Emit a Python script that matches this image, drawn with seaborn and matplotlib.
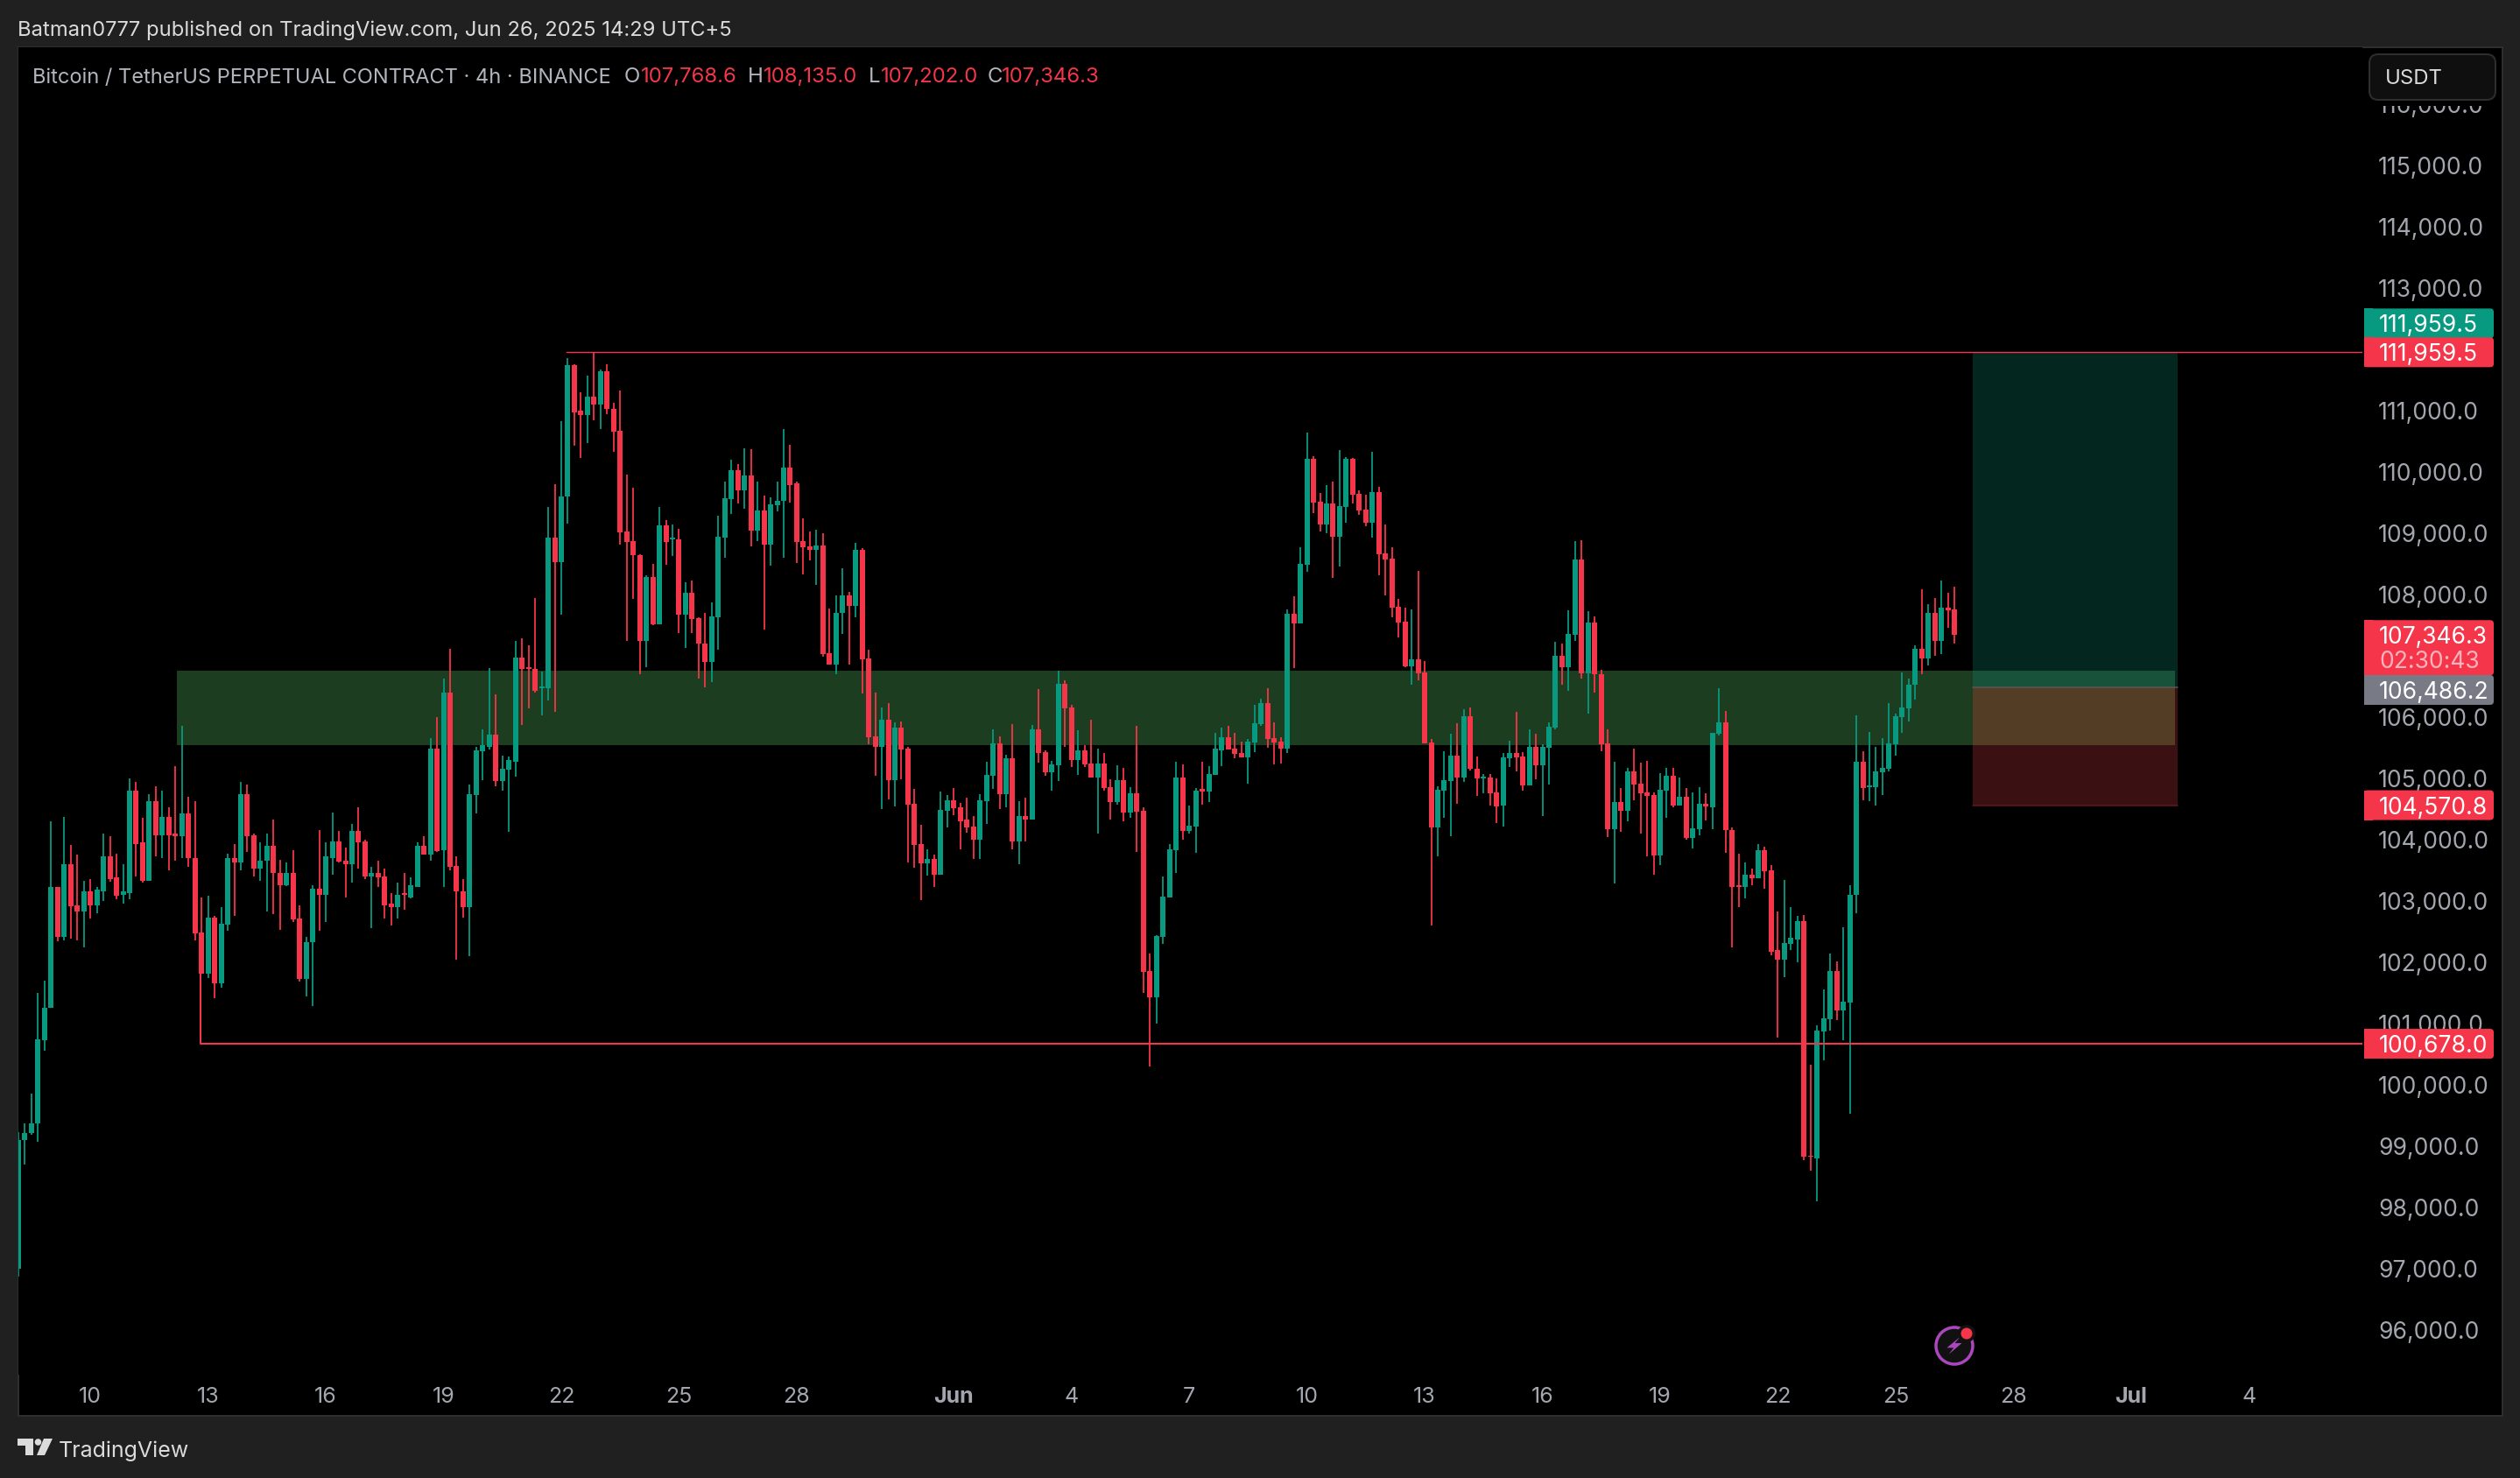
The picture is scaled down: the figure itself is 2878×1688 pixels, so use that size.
"""BTCUSDT 4h perpetual chart with a long position box, TradingView dark look."""

import matplotlib
matplotlib.use("Agg")
import matplotlib.pyplot as plt
from matplotlib.patches import Circle, FancyBboxPatch, Polygon, Rectangle
import numpy as np
import pandas as pd
import seaborn as sns

opens = [
    97010, 99100, 99220, 99380, 100730, 101260, 103240, 102420, 103610, 102930,
    102840, 103160, 102940, 103170, 103730, 103390, 103100, 103140, 104800, 103960,
    103330, 104630, 104080, 104380, 104100, 104060, 104440, 103710, 102490, 101820,
    102740, 101670, 102620, 103700, 103630, 104750, 104080, 103540, 103660, 103910,
    103470, 103270, 103470, 102720, 101730, 102340, 103210, 103110, 103710, 103980,
    103660, 103610, 104150, 103980, 103410, 103470, 103410, 102960, 102900, 103140,
    103070, 103240, 103900, 103770, 105490, 103830, 106410, 103580, 103170, 102910,
    104740, 105450, 105520, 105720, 104970, 105150, 105280, 106980, 106820, 106790,
    106480, 106480, 108930, 108530, 109610, 111750, 111000, 110930, 111240, 111110,
    111650, 111040, 110680, 109030, 108880, 108650, 107250, 108290, 107520, 109140,
    108900, 108910, 107680, 108040, 107620, 107210, 106910, 107640, 108930, 109570,
    110030, 109700, 109950, 109050, 109380, 108820, 109470, 109530, 110080, 109820,
    108880, 108790, 108740, 108810, 107050, 106870, 107700, 107990, 107820, 108740,
    106960, 105690, 105520, 105970, 104980, 105830, 105490, 104590, 103940, 103620,
    103690, 103440, 104480, 104650, 104540, 104330, 104220, 104010, 104640, 105050,
    105580, 104750, 105330, 103980, 104390, 104330, 105810, 105430, 105100, 105220,
    106550, 106160, 105300, 105470, 105250, 105020, 105250, 104870, 104620, 104980,
    104450, 104770, 104480, 101870, 101440, 102420, 103060, 103830, 105020, 104150,
    104220, 104830, 104790, 105060, 105470, 105680, 105490, 105420, 105350, 105590,
    105890, 106230, 105670, 105610, 105490, 107690, 107540, 108490, 110220, 109520,
    109150, 109490, 108950, 109440, 110220, 109650, 109390, 109180, 109680, 108680,
    108590, 107810, 107560, 106830, 106950, 106730, 105590, 104210, 104810, 104970,
    105380, 105020, 106020, 105170, 105010, 105020, 104780, 104570, 105340, 105420,
    105370, 104890, 105520, 105220, 105510, 105830, 107010, 106820, 107350, 108580,
    106720, 107550, 106710, 105580, 104180, 104620, 104480, 105120, 104920, 104780,
    104740, 103750, 104800, 105050, 104570, 104710, 104040, 104180, 104590, 104540,
    105740, 105920, 104160, 103260, 103230, 103430, 103380, 103830, 103510, 102200,
    102050, 102310, 102380, 102680, 98850, 98810, 100880, 101080, 101870, 101220,
    101350, 103100, 105280, 104870, 104870, 105110, 105170, 105570, 106010, 106150,
    106530, 107120, 106970, 107700, 107250, 107790, 107768.6,
]
highs = [
    99230, 99380, 99870, 101500, 101700, 104310, 103240, 104380, 103920, 103760,
    103340, 103360, 103240, 104100, 104070, 103780, 103600, 105010, 104950, 104370,
    104750, 104880, 104810, 104540, 105200, 105870, 104700, 104630, 103060, 103090,
    102760, 102910, 103780, 103940, 104950, 104900, 104100, 103960, 104110, 104330,
    103680, 103640, 103830, 102940, 102420, 103260, 104170, 103960, 104450, 104150,
    103880, 104270, 104530, 104000, 103570, 103670, 103530, 103140, 103310, 103470,
    103390, 103960, 104070, 105670, 106010, 106640, 107120, 103740, 103370, 104910,
    105520, 105810, 106810, 106380, 105380, 105370, 107250, 107290, 107180, 107950,
    106750, 109430, 109800, 110830, 111870, 111770, 111300, 111580, 111960, 111680,
    111770, 111140, 111340, 109970, 109750, 108660, 108320, 108510, 109430, 109220,
    109150, 109080, 108200, 108240, 107640, 107700, 107880, 109290, 109850, 110200,
    110130, 110390, 110380, 109850, 109620, 109590, 109850, 110700, 110450, 109850,
    109250, 109040, 109070, 109010, 107780, 107990, 108430, 108050, 108850, 108760,
    107110, 106410, 106160, 106240, 105920, 105930, 105520, 104830, 104250, 103850,
    103770, 104790, 104740, 104850, 104600, 104690, 104390, 104750, 105280, 105810,
    105690, 105390, 105890, 104640, 104690, 105880, 106470, 105470, 105290, 106770,
    106610, 106200, 105790, 105550, 105960, 105490, 105420, 104990, 105220, 105180,
    104870, 105870, 104540, 102150, 102450, 103410, 103930, 105280, 105240, 104560,
    104850, 105280, 105200, 105750, 105830, 105870, 105750, 105600, 105650, 106200,
    106300, 106480, 105920, 105680, 107760, 107980, 108780, 110650, 110270, 109670,
    109790, 109850, 110370, 110250, 110240, 109710, 109630, 110340, 109770, 109150,
    108780, 107940, 107790, 107760, 108390, 106920, 105650, 104880, 105450, 105740,
    105900, 106140, 106170, 105370, 105080, 105080, 105010, 105420, 105620, 106090,
    105430, 105800, 105740, 105570, 105920, 107230, 107200, 107750, 108880, 108890,
    107730, 107650, 106780, 105800, 105280, 104850, 105180, 105490, 105270, 105290,
    104780, 105090, 105180, 105180, 105020, 104850, 104780, 104870, 104770, 105750,
    106480, 106110, 104210, 103780, 103640, 103540, 103940, 103890, 103590, 102830,
    103350, 102900, 102760, 102780, 100340, 100980, 101570, 102150, 102020, 102580,
    103260, 106040, 105450, 105770, 105520, 105670, 106240, 106060, 106730, 106640,
    107180, 108090, 107850, 107950, 108240, 108030, 108135,
]
lows = [
    96880, 98710, 99190, 99080, 100570, 101260, 102350, 102370, 102390, 102370,
    102250, 102720, 102800, 103010, 103320, 103040, 102960, 103030, 103410, 103300,
    103330, 103740, 103700, 103510, 103670, 103700, 103560, 102360, 101820, 101750,
    101420, 101590, 102520, 102770, 103500, 103800, 103410, 103330, 102830, 102790,
    102540, 103250, 102670, 101690, 101450, 101290, 102520, 102670, 103430, 103630,
    103070, 103310, 103530, 103370, 102560, 103240, 102720, 102600, 102720, 102860,
    103050, 103240, 103770, 103670, 103800, 103230, 103510, 102050, 102740, 102100,
    104440, 104980, 105480, 104880, 104810, 104130, 105040, 105880, 106150, 106410,
    106040, 106280, 106090, 107680, 109160, 110430, 110240, 110480, 110850, 110700,
    110950, 110340, 108820, 107250, 107930, 106710, 106820, 107510, 107520, 108490,
    108640, 107380, 107140, 107380, 106640, 106490, 106580, 107110, 108610, 109320,
    109490, 109410, 108790, 108880, 107430, 108480, 109370, 108600, 109510, 108520,
    108340, 108570, 108160, 106990, 106870, 106710, 107370, 106870, 107640, 106390,
    105560, 105050, 104510, 104660, 104550, 104990, 103640, 103550, 103020, 103420,
    103230, 103440, 104210, 104410, 103850, 104120, 103690, 103690, 104270, 104830,
    104510, 104540, 103850, 103600, 103980, 104330, 105270, 105050, 104810, 104960,
    105520, 105190, 105060, 105190, 105020, 104100, 104810, 104330, 104580, 104310,
    104370, 103810, 101500, 100300, 101000, 102310, 103060, 103460, 104000, 104100,
    103790, 104580, 104620, 105060, 105210, 105480, 105330, 105350, 104920, 105440,
    105870, 105510, 105240, 105250, 105420, 106800, 107540, 108380, 109340, 109040,
    109010, 108280, 108460, 109180, 109490, 109310, 109120, 108940, 108320, 107990,
    107640, 107300, 106820, 106530, 106610, 105580, 102610, 103730, 104360, 104060,
    104590, 104950, 105140, 104720, 104770, 104570, 104280, 104220, 105190, 105120,
    104810, 104890, 104990, 104390, 104910, 105800, 106530, 106430, 107250, 106630,
    106070, 106400, 105450, 104050, 103290, 104140, 104310, 104650, 104110, 103740,
    103430, 103590, 104360, 104540, 104570, 104010, 103860, 104080, 104320, 104180,
    105700, 103790, 102250, 102900, 103050, 103260, 103380, 103210, 102120, 100780,
    101770, 102200, 102000, 98780, 98600, 98110, 100410, 100890, 101070, 100740,
    99540, 102810, 104650, 104640, 104570, 104740, 105120, 105380, 105750, 105940,
    106290, 106700, 106850, 107010, 107040, 107470, 107202,
]
closes = [
    99110, 99220, 99380, 100750, 101260, 103240, 102420, 103610, 102920, 102840,
    103160, 102940, 103190, 103730, 103370, 103090, 103160, 104800, 103940, 103340,
    104630, 104080, 104380, 104080, 104070, 104440, 103700, 102480, 101820, 102740,
    101670, 102630, 103700, 103630, 104750, 104070, 103540, 103670, 103910, 103470,
    103270, 103470, 102700, 101730, 102340, 103210, 103110, 103730, 103980, 103650,
    103610, 104150, 103970, 103400, 103470, 103390, 102940, 102900, 103110, 103100,
    103260, 103900, 103770, 105490, 103820, 106410, 103570, 103170, 102910, 104750,
    105470, 105550, 105720, 104970, 105170, 105300, 106980, 106790, 106790, 106440,
    106510, 108930, 108530, 109610, 111750, 110980, 110930, 111240, 111110, 111650,
    111040, 110670, 109020, 108870, 108650, 107250, 108290, 107520, 109140, 108870,
    108930, 107680, 108040, 107610, 107200, 106910, 107650, 108950, 109580, 110030,
    109700, 109950, 109050, 109380, 108820, 109480, 109530, 110080, 109790, 108870,
    108780, 108740, 108810, 107040, 106870, 107700, 107990, 107820, 108740, 106950,
    105680, 105520, 105970, 104980, 105830, 105480, 104580, 103920, 103620, 103690,
    103440, 104490, 104650, 104520, 104310, 104210, 104010, 104650, 105060, 105580,
    104750, 105330, 103980, 104390, 104330, 105810, 105420, 105100, 105240, 106550,
    106150, 105300, 105470, 105230, 105020, 105250, 104850, 104620, 104980, 104450,
    104770, 104460, 101850, 101440, 102440, 103080, 103850, 105020, 104150, 104240,
    104810, 104790, 105080, 105490, 105680, 105480, 105410, 105350, 105610, 105900,
    106230, 105650, 105590, 105490, 107690, 107540, 108510, 110220, 109510, 109150,
    109490, 108950, 109450, 110220, 109640, 109380, 109180, 109680, 108660, 108580,
    107790, 107550, 106830, 106950, 106720, 105580, 104210, 104820, 104980, 105380,
    105020, 106020, 105170, 105010, 105040, 104770, 104550, 105350, 105420, 105350,
    104890, 105520, 105220, 105520, 105850, 107010, 106820, 107360, 108580, 106720,
    107550, 106700, 105570, 104180, 104620, 104480, 105120, 104910, 104770, 104720,
    103750, 104820, 105050, 104560, 104710, 104030, 104190, 104590, 104550, 105750,
    105920, 104160, 103240, 103240, 103430, 103380, 103830, 103490, 102180, 102050,
    102320, 102400, 102680, 98830, 98830, 100890, 101090, 101870, 101220, 101370,
    103110, 105280, 104850, 104890, 105120, 105180, 105580, 106020, 106160, 106540,
    107120, 106970, 107700, 107250, 107790, 107750, 107346.3,
]

price_ticks = [96000, 97000, 98000, 99000, 100000, 101000, 102000, 103000, 104000, 105000,
               106000, 108000, 109000, 110000, 111000, 113000, 114000, 115000, 116000]
time_positions = [11, 29, 47, 65, 83, 101, 119, 143, 161, 179, 197, 215, 233, 251, 269, 287, 305, 323, 341]
time_labels = ["10", "13", "16", "19", "22", "25", "28", "Jun", "4", "7", "10", "13", "16", "19", "22", "25", "28", "Jul", "4"]

resistance = 111959.5
support = 100678.0
entry = 106486.2
stop = 104570.8
last_close = 107346.3
zone_top = 106770
zone_bottom = 105550
support_start = 27.8
resistance_start = 83.8
zone_start = 24.2
box_start = 298.8
zone_end = 329.7
box_end = 330.1

W, H = 2878, 1688
GREEN = "#089981"
RED = "#F5364A"
FRAME = "#202020"
EDGE = "#2E2E2E"
GREY = "#A3A6AF"
LEGEND = "#B2B5BE"
PX = 0.72  # points per pixel at dpi 100
SCALE_FONT = 26.5 * PX

sns.set_theme(style="dark")
plt.rcParams["font.family"] = ["Inter", "DejaVu Sans"]

fig = plt.figure(figsize=(W / 100, H / 100), dpi=100, facecolor=FRAME)


def overlay(zorder):
    axis = fig.add_axes([0, 0, 1, 1], zorder=zorder)
    axis.set_xlim(0, W)
    axis.set_ylim(H, 0)
    axis.axis("off")
    return axis


back = overlay(0)
back.add_patch(Rectangle((20.5, 53.5), 2837, 1563, facecolor="black", edgecolor=EDGE, linewidth=2 * PX))

ax = fig.add_axes([21 / W, 1 - 1570 / H, (2698 - 21) / W, (1570 - 54) / H], zorder=1, facecolor="black")
ax.set_xlim(0, (2698 - 21) / 7.47)
ax.set_ylim(100000 + (1239.5 - 1570) / 0.07, 100000 + (1239.5 - 54) / 0.07)
ax.grid(False)
for spine in ax.spines.values():
    spine.set_visible(False)

# position box and the green zone, opaque pieces so the overlaps keep their tint
ax.add_patch(Rectangle((zone_start, zone_bottom), box_start - zone_start, zone_top - zone_bottom, color="#1C3D1F", lw=0, zorder=1))
ax.add_patch(Rectangle((box_start, entry), box_end - box_start, resistance - entry, color="#03261F", lw=0, zorder=1))
ax.add_patch(Rectangle((box_start, stop), box_end - box_start, entry - stop, color="#3A1013", lw=0, zorder=1))
ax.add_patch(Rectangle((box_start, entry), zone_end - box_start, zone_top - entry, color="#18523A", lw=0, zorder=1.5))
ax.add_patch(Rectangle((box_start, zone_bottom), zone_end - box_start, entry - zone_bottom, color="#533D25", lw=0, zorder=1.5))

direction = np.where(np.array(closes) >= np.array(opens), "up", "down")
index = np.arange(len(opens))
palette = {"up": GREEN, "down": RED}

wicks = pd.DataFrame({
    "i": np.repeat(index, 2),
    "price": np.column_stack([lows, highs]).ravel(),
    "dir": np.repeat(direction, 2),
})
bodies = pd.DataFrame({
    "i": np.repeat(index, 2),
    "price": np.column_stack([opens, closes]).ravel(),
    "dir": np.repeat(direction, 2),
})
for frame, width in ((wicks, 1.8), (bodies, 6)):
    sns.lineplot(data=frame, x="i", y="price", hue="dir", units="i", estimator=None, sort=False,
                 palette=palette, legend=False, linewidth=width * PX, solid_capstyle="butt", ax=ax, zorder=3)

xmax = ax.get_xlim()[1]
sns.lineplot(x=[resistance_start, xmax], y=[resistance, resistance], sort=False, estimator=None, color=RED, linewidth=1.4 * PX, ax=ax, zorder=4)
sns.lineplot(x=[support_start, support_start, xmax], y=[lows[28], support, support], sort=False, estimator=None, color=RED, linewidth=2 * PX, ax=ax, zorder=4)
sns.lineplot(x=[box_start, box_end], y=[entry, entry], sort=False, estimator=None, color="#5A5A55", linewidth=1.5 * PX, ax=ax, zorder=2)
sns.lineplot(x=[box_start, box_end], y=[stop, stop], sort=False, estimator=None, color="#641820", linewidth=1.5 * PX, ax=ax, zorder=2)

ax.set(xlabel="", ylabel="")
ax.set_yticks(price_ticks, [f"{p:,.1f}" for p in price_ticks])
ax.set_xticks(time_positions, time_labels)
ax.tick_params(axis="y", length=0, labelright=True, labelleft=False, pad=18 * PX, labelsize=SCALE_FONT, labelcolor=GREY)
ax.tick_params(axis="x", length=0, pad=14 * PX, labelsize=25 * PX, labelcolor=GREY)
for label in ax.get_xticklabels():
    if label.get_text() in ("Jun", "Jul"):
        label.set_fontweight("bold")

hud = overlay(2)


def tag(price, text, color, shift=0, extra=None):
    y = H - ax.transData.transform((0, price))[1] + shift
    bottom = y + 17 + (29 if extra else 0)
    hud.add_patch(FancyBboxPatch((2700, y - 17), 148, bottom - y + 17, boxstyle="round,pad=0,rounding_size=4", facecolor=color, edgecolor="none"))
    hud.add_patch(Rectangle((2700, y - 17), 10, bottom - y + 17, facecolor=color, edgecolor="none"))
    hud.text(2717, y, text, color="white", fontsize=SCALE_FONT, va="center_baseline")
    if extra:
        hud.text(2717, y + 28, extra, color="#FFB3BC", fontsize=SCALE_FONT, va="center_baseline")


tag(resistance, "111,959.5", GREEN, shift=-33)
tag(resistance, "111,959.5", RED)
tag(last_close, "107,346.3", RED, extra="02:30:43")
tag(entry, "106,486.2", "#787B86", shift=2.5)
tag(stop, "104,570.8", RED)
tag(support, "100,678.0", RED)

# the currency button masks the top of the scale
hud.add_patch(Rectangle((2700, 55), 157, 66, facecolor="black", edgecolor="none"))
hud.add_patch(FancyBboxPatch((2706, 62), 144, 52, boxstyle="round,pad=0,rounding_size=10", facecolor="#0F0F0F", edgecolor=EDGE, linewidth=2 * PX))
hud.text(2724, 88, "USDT", color="#DBDBDB", fontsize=24 * PX, va="center_baseline")

hud.text(20, 32, "Batman0777 published on TradingView.com, Jun 26, 2025 14:29 UTC+5", color="#DBDBDB", fontsize=23.8 * PX, va="center_baseline")
hud.text(37, 86, "Bitcoin / TetherUS PERPETUAL CONTRACT · 4h · BINANCE", color=LEGEND, fontsize=23.6 * PX, va="center_baseline")
for letter, lx, value, vx in (("O", 713, "107,768.6", 732), ("H", 854, "108,135.0", 872), ("L", 992, "107,202.0", 1006), ("C", 1128, "107,346.3", 1144)):
    hud.text(lx, 86, letter, color=LEGEND, fontsize=24 * PX, va="center_baseline")
    hud.text(vx, 86, value, color=RED, fontsize=24 * PX, va="center_baseline")

# footer logo
hud.add_patch(Polygon([(20, 1643), (38, 1643), (38, 1662), (29, 1662), (29, 1651), (20, 1651)], facecolor="#DBDBDB", edgecolor="none"))
hud.add_patch(Circle((43.5, 1647), 3.8, facecolor="#DBDBDB", edgecolor="none"))
hud.add_patch(Polygon([(50, 1643), (60, 1643), (51, 1662), (42, 1662)], facecolor="#DBDBDB", edgecolor="none"))
hud.text(67, 1655, "TradingView", color="#DBDBDB", fontsize=25 * PX, va="center_baseline")

# alert badge near the last candle
hud.add_patch(Circle((2232, 1537), 21, facecolor="#111111", edgecolor="#AB47BC", linewidth=3.5 * PX))
hud.add_patch(Polygon([(2238.7, 1526.7), (2223.4, 1539.3), (2231.2, 1539.3), (2225.7, 1546.7), (2240.5, 1534), (2232.6, 1534)], facecolor="#AB47BC", edgecolor="none"))
hud.add_patch(Circle((2246, 1523), 10, facecolor="#111111", edgecolor="none"))
hud.add_patch(Circle((2246, 1523), 6.5, facecolor=RED, edgecolor="none"))

fig.savefig("out.png", dpi=100, facecolor=FRAME)
plt.close(fig)
